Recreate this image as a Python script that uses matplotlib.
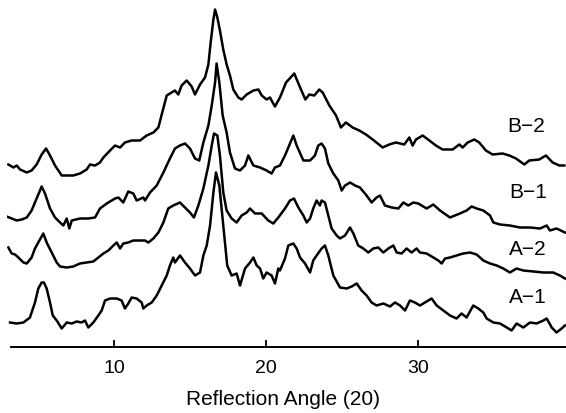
import matplotlib
matplotlib.use('Agg')
import matplotlib.pyplot as plt

# diffraction traces (angle in degrees 2-theta, height in arbitrary units)
b2_angle = [3.03, 3.36, 3.58, 3.80, 4.24, 4.56, 4.89, 5.22, 5.51, 5.77, 6.10, 6.54, 6.87, 7.30,
            7.74, 8.18, 8.40, 8.73, 9.06, 9.28, 9.72, 10.05, 10.38, 10.70, 11.14, 11.69, 12.13,
            12.57, 12.90, 13.12, 13.45, 13.77, 13.99, 14.21, 14.43, 14.76, 15.09, 15.31, 15.64,
            15.97, 16.19, 16.34, 16.52, 16.63, 16.78, 16.95, 17.17, 17.39, 17.61, 17.83, 18.16,
            18.38, 18.71, 19.15, 19.48, 19.70, 20.02, 20.24, 20.57, 20.90, 21.30, 21.84, 22.17,
            22.57, 22.83, 23.16, 23.49, 23.71, 24.15, 24.59, 24.91, 25.24, 25.68, 26.12, 26.56,
            27.00, 27.66, 28.09, 28.53, 29.08, 29.41, 29.63, 29.85, 30.29, 30.73, 31.16, 31.60,
            32.26, 32.70, 32.92, 33.25, 33.69, 34.01, 34.45, 34.89, 35.55, 35.99, 36.43, 36.98,
            37.30, 37.96, 38.40, 38.84, 39.28, 39.61]
b2_value = [182, 179, 181, 177, 174, 176, 182, 192, 198, 191, 181, 171, 171, 171,
            173, 177, 182, 181, 184, 189, 196, 201, 199, 204, 206, 206, 211,
            214, 219, 232, 251, 254, 256, 252, 261, 266, 260, 252, 262,
            269, 282, 304, 327, 337, 329, 316, 297, 282, 271, 257, 249,
            247, 252, 256, 257, 251, 247, 249, 240, 249, 264, 273, 261,
            247, 252, 251, 257, 254, 241, 231, 219, 224, 219, 216, 212,
            207, 199, 202, 204, 202, 209, 201, 207, 211, 206, 201, 197,
            197, 202, 199, 204, 207, 204, 196, 192, 193, 191, 188, 182,
            186, 187, 191, 184, 181, 181]

b1_angle = [2.92, 3.25, 3.58, 3.91, 4.24, 4.56, 4.89, 5.22, 5.44, 5.77, 6.10, 6.43, 6.65, 6.87,
            7.04, 7.20, 7.74, 8.29, 8.73, 9.06, 9.50, 10.05, 10.27, 10.59, 10.92, 11.25, 11.47,
            11.91, 12.02, 12.35, 12.79, 13.23, 13.66, 13.99, 14.32, 14.65, 14.98, 15.31, 15.59,
            15.86, 16.19, 16.41, 16.63, 16.73, 16.91, 17.13, 17.39, 17.61, 17.94, 18.27, 18.60,
            18.82, 19.15, 19.59, 20.02, 20.35, 20.57, 20.90, 21.23, 21.56, 21.78, 22.00, 22.44,
            22.88, 23.20, 23.42, 23.64, 23.86, 24.08, 24.41, 24.74, 24.96, 25.18, 25.51, 25.84,
            26.16, 26.60, 26.93, 27.26, 27.48, 27.81, 28.25, 28.69, 29.02, 29.34, 29.67, 30.00,
            30.11, 30.55, 30.99, 31.43, 32.09, 32.74, 33.18, 33.51, 33.84, 34.28, 34.72, 34.94,
            35.38, 36.03, 36.69, 37.35, 38.01, 38.45, 38.66, 39.10, 39.65]
b1_value = [130, 128, 126, 127, 129, 136, 148, 160, 153, 138, 129, 124, 121, 128,
            118, 126, 128, 128, 129, 138, 143, 148, 149, 144, 155, 153, 146,
            149, 146, 154, 161, 174, 188, 198, 201, 203, 198, 188, 186,
            204, 221, 241, 264, 283, 264, 231, 214, 194, 178, 176, 181,
            191, 181, 179, 176, 173, 179, 181, 191, 203, 211, 201, 186,
            186, 191, 201, 203, 198, 183, 173, 166, 156, 161, 164, 161,
            159, 151, 144, 149, 151, 141, 139, 138, 144, 141, 144, 143,
            142, 138, 142, 136, 129, 133, 136, 140, 138, 136, 131, 124,
            122, 121, 119, 119, 118, 121, 116, 118, 114]

a2_angle = [3.03, 3.25, 3.47, 3.69, 4.02, 4.24, 4.56, 4.78, 5.07, 5.33, 5.55, 5.88, 6.21, 6.43,
            6.87, 7.30, 7.74, 8.18, 8.62, 8.95, 9.28, 9.61, 9.94, 10.16, 10.38, 10.59, 10.92,
            11.25, 11.69, 12.02, 12.24, 12.57, 12.90, 13.23, 13.55, 13.88, 14.32, 14.65, 14.98,
            15.24, 15.53, 15.86, 16.19, 16.41, 16.56, 16.78, 16.95, 17.17, 17.39, 17.72, 18.05,
            18.38, 18.71, 18.93, 19.26, 19.70, 20.13, 20.46, 20.79, 21.23, 21.56, 21.82, 22.11,
            22.44, 22.66, 22.88, 23.09, 23.31, 23.53, 23.64, 23.86, 24.08, 24.30, 24.63, 24.85,
            25.18, 25.51, 25.73, 26.05, 26.38, 26.71, 27.04, 27.37, 27.70, 28.03, 28.36, 28.58,
            28.91, 29.23, 29.56, 29.89, 30.11, 30.55, 30.99, 31.32, 31.54, 31.76, 32.09, 32.52,
            32.96, 33.40, 33.84, 34.28, 34.72, 35.16, 35.59, 36.03, 36.47, 36.91, 37.57, 38.23,
            38.88, 39.32, 39.65]
a2_value = [99, 93, 92, 89, 84, 83, 89, 98, 106, 113, 104, 94, 84, 80,
            79, 80, 83, 84, 85, 89, 93, 96, 101, 104, 98, 103, 104,
            106, 106, 106, 104, 108, 114, 124, 138, 141, 144, 139, 134,
            129, 141, 158, 181, 201, 213, 211, 191, 154, 136, 128, 124,
            131, 134, 138, 133, 133, 126, 123, 129, 138, 146, 148, 139,
            131, 124, 128, 138, 146, 141, 146, 144, 131, 118, 111, 108,
            111, 119, 113, 101, 98, 94, 98, 99, 94, 98, 101, 94,
            93, 98, 94, 98, 94, 93, 89, 86, 83, 88, 89, 91,
            93, 94, 92, 86, 83, 81, 78, 74, 78, 76, 75, 74,
            74, 71, 68]

a1_angle = [3.14, 3.58, 4.02, 4.45, 4.78, 5.00, 5.22, 5.37, 5.55, 5.77, 5.95, 6.21, 6.54, 6.87,
            7.20, 7.52, 7.85, 8.07, 8.29, 8.62, 8.95, 9.17, 9.39, 9.72, 10.16, 10.48, 10.70,
            10.92, 11.14, 11.47, 11.80, 11.91, 12.13, 12.46, 12.79, 13.12, 13.45, 13.66, 13.88,
            13.99, 14.32, 14.65, 14.98, 15.31, 15.64, 15.86, 16.08, 16.30, 16.52, 16.69, 16.91,
            17.17, 17.43, 17.72, 18.05, 18.27, 18.60, 18.93, 19.15, 19.37, 19.59, 19.80, 20.02,
            20.35, 20.57, 20.79, 20.90, 21.23, 21.45, 21.78, 22.00, 22.22, 22.55, 22.88, 23.09,
            23.31, 23.64, 23.86, 24.08, 24.41, 24.85, 25.29, 25.62, 25.95, 26.27, 26.60, 26.93,
            27.26, 27.70, 28.14, 28.47, 28.80, 29.13, 29.45, 29.78, 30.11, 30.44, 30.88, 31.21,
            31.65, 32.09, 32.52, 32.85, 33.18, 33.62, 33.95, 34.28, 34.50, 34.94, 35.38, 35.82,
            36.14, 36.47, 36.91, 37.35, 37.79, 38.23, 38.45, 38.78, 39.10, 39.43, 39.65]
a1_value = [24, 23, 24, 29, 44, 58, 64, 64, 58, 44, 31, 26, 18, 24,
            23, 25, 24, 26, 19, 24, 31, 36, 46, 48, 48, 46, 38,
            43, 49, 48, 44, 38, 41, 44, 51, 61, 71, 81, 89,
            84, 91, 84, 78, 71, 74, 91, 101, 121, 154, 174, 161,
            121, 81, 71, 73, 61, 78, 84, 89, 81, 78, 68, 74,
            71, 63, 78, 76, 88, 101, 103, 98, 89, 83, 74, 86,
            91, 98, 101, 91, 71, 59, 58, 60, 63, 56, 51, 44,
            41, 43, 40, 44, 41, 36, 46, 44, 41, 44, 48, 41,
            36, 31, 28, 33, 29, 41, 38, 34, 28, 24, 23, 19,
            16, 23, 19, 24, 23, 26, 28, 19, 14, 18, 21]

trace_names = ['B\u22122', 'B\u22121', 'A\u22122', 'A\u22121']
label_x = [37.1, 37.2, 37.2, 37.2]
label_y = [221, 155, 98, 50]

fig = plt.figure(figsize=(5.66, 4.14), dpi=100)
ax = fig.add_axes([7 / 566, 66.5 / 414, 559 / 566, 347.5 / 414])

for ang, val in [(b2_angle, b2_value), (b1_angle, b1_value),
                 (a2_angle, a2_value), (a1_angle, a1_value)]:
    ax.plot(ang, val, color='black', linewidth=1.8, solid_joinstyle='round')

for name, lx, ly in zip(trace_names, label_x, label_y):
    ax.text(lx, ly, name, ha='center', va='center', fontsize=15, family='Liberation Sans')

ax.set_xlim(2.94, 39.72)
ax.set_ylim(0, 347.5)
for side in ['left', 'right', 'top']:
    ax.spines[side].set_visible(False)
ax.spines['bottom'].set_bounds(3.2, 39.7)
ax.spines['bottom'].set_linewidth(1.4)
ax.set_yticks([])
ax.set_xticks([10, 20, 30])
ax.tick_params(axis='x', direction='in', length=5, width=1.3, pad=9, labelsize=14)
for lab in ax.get_xticklabels():
    lab.set_family('Liberation Sans')

fig.text(282.5 / 566, 1 - 400 / 414, 'Reflection Angle (20)', ha='center', va='center',
         fontsize=15, family='Liberation Sans')

fig.savefig('out.png', dpi=100)
